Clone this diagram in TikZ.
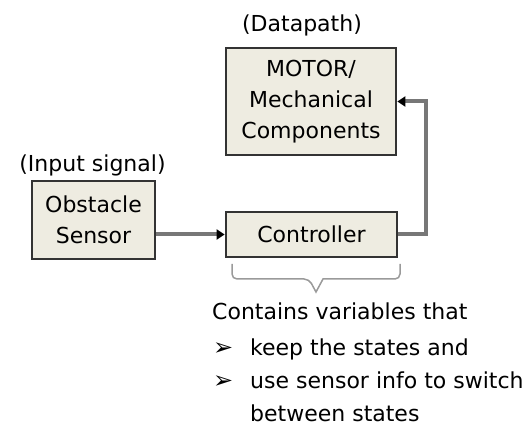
\documentclass[tikz,border=0pt]{standalone}
\usepackage{fontspec}
\setmainfont{DejaVu Sans}
\usetikzlibrary{arrows.meta,calc}
\definecolor{boxfill}{HTML}{EEECE1}
\definecolor{boxedge}{HTML}{333333}
\definecolor{wire}{HTML}{777777}
\definecolor{bracecol}{HTML}{9A9A9A}
\tikzset{
  block/.style={draw=boxedge, line width=2.8pt, fill=boxfill, align=center,
    inner sep=0pt, font=\fontsize{22}{31}\selectfont},
  tag/.style={font=\fontsize{22}{25}\selectfont, inner sep=0pt},
  notetext/.style={font=\fontsize{22}{25}\selectfont, inner sep=0pt, anchor=base west},
  bulletmark/.style={font=\fontsize{24}{25}\bfseries\selectfont, inner sep=0pt, anchor=base west},
  wireline/.style={draw=wire, line width=4pt},
  tip/.style={-{Triangle[length=8pt,width=10pt,color=black]}},
  bracket/.style={draw=bracecol, line width=1.5pt, rounded corners=5pt}
}
\begin{document}
\begin{tikzpicture}[x=1pt,y=-1pt]
  \useasboundingbox (0,0) rectangle (528,430);

  % blocks
  \node[block, minimum width=170pt, minimum height=107pt] (motor) at (311,101.5)
    {MOTOR/\\Mechanical\\Components};
  \node[block, minimum width=123pt, minimum height=78pt] (sensor) at (93.5,220)
    {Obstacle\\Sensor};
  \node[block, minimum width=171pt, minimum height=45pt] (ctrl) at (311.5,234.5)
    {Controller};

  % role labels
  \node[tag] (dp) at (302,25) {(Datapath)};
  \node[tag] (inp) at (92.5,165) {(Input signal)};

  % signal flow
  \draw[wireline, tip] (sensor.east |- ctrl.west) -- (ctrl.west);
  \coordinate (bend) at (426,234.5);
  \draw[wireline, tip] (ctrl.east) -- (bend) |- (motor.east);

  % bracket under the controller
  \coordinate (brL) at (232,264);
  \coordinate (brR) at (400,264);
  \coordinate (brTip) at (316,292);
  \draw[bracket] (brL) -- (232,279) -- (309,279)
    [sharp corners] -- (brTip) -- (323,279)
    [rounded corners=5pt] -- (400,279) -- (brR);

  % explanatory note
  \node[notetext] (n0) at (212,320) {Contains variables that};
  \node[bulletmark] (b1) at (213,356) {➢};
  \node[notetext] (n1) at (250,356) {keep the states and};
  \node[bulletmark] (b2) at (213,389) {➢};
  \node[notetext] (n2) at (250,389) {use sensor info to switch};
  \node[notetext] (n3) at (250,422) {between states};
\end{tikzpicture}
\end{document}
